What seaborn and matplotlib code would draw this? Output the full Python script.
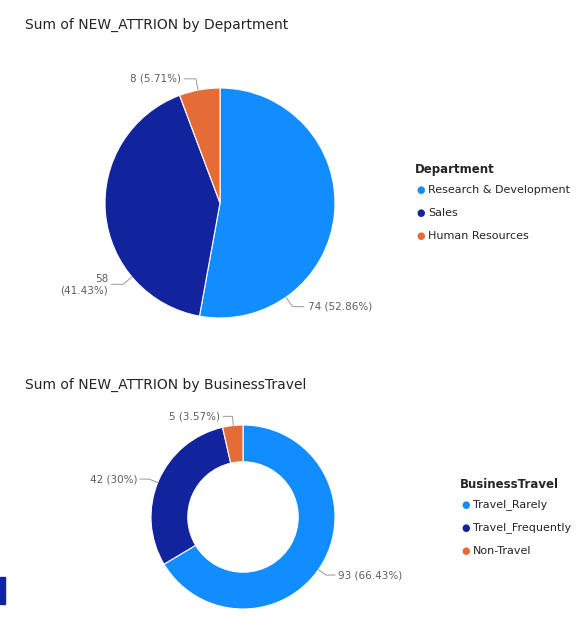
import numpy as np
import matplotlib
matplotlib.use("Agg")
import matplotlib.pyplot as plt
import seaborn as sns

dept_labels = ["Research & Development", "Sales", "Human Resources"]
dept_values = [74, 58, 8]
dept_pct = ["52.86%", "41.43%", "5.71%"]

travel_labels = ["Travel_Rarely", "Travel_Frequently", "Non-Travel"]
travel_values = [93, 42, 5]
travel_pct = ["66.43%", "30%", "3.57%"]

colors = ["#118DFF", "#12239E", "#E66C37"]

sns.set_theme(style="white")
plt.rcParams['font.family'] = ['DejaVu Sans']

W, H = 580, 630
fig = plt.figure(figsize=(W / 100, H / 100), dpi=100)
fig.patch.set_facecolor("white")


def px_axes(cx, cy, r):
    return fig.add_axes([(cx - r) / W, 1 - (cy + r) / H, 2 * r / W, 2 * r / H])


def draw_pie(ax, values, pct, width, label_lines, label_angles):
    ax.pie(values, colors=colors, startangle=90, counterclock=False,
           radius=1, wedgeprops=dict(width=width, edgecolor="white", linewidth=0.8))
    ax.set_xlim(-1, 1)
    ax.set_ylim(-1, 1)
    ax.set_aspect("auto")
    ax.axis("off")
    for v, p, two, a in zip(values, pct, label_lines, label_angles):
        ang = np.deg2rad(a)
        x0, y0 = np.cos(ang), np.sin(ang)
        x1, y1 = 1.1 * x0, 1.1 * y0
        side = 1 if x0 >= 0 else -1
        x2 = x1 + side * 0.1
        ax.plot([x0, x1, x2], [y0, y1, y1], color="#999999", lw=0.7, clip_on=False)
        txt = f"{v}\n({p})" if two else f"{v} ({p})"
        ax.text(x2 + side * 0.03, y1, txt, ha="left" if side > 0 else "right", va="center",
                fontsize=7.5, color="#605E5C", clip_on=False, linespacing=1.2)


def legend(title, labels, x, y):
    fig.text(x / W, 1 - y / H, title, fontsize=8.5, fontweight="bold", color="#252423", va="center")
    for i, lab in enumerate(labels):
        yy = y + 20 + i * 23
        fig.text((x + 1) / W, 1 - yy / H, "\u25CF", color=colors[i], fontsize=7, va="center")
        fig.text((x + 13) / W, 1 - yy / H, lab, fontsize=8, color="#252423", va="center")


fig.text(25 / W, 1 - 25 / H, "Sum of NEW_ATTRION by Department", fontsize=10, color="#252423", va="center")
ax1 = px_axes(220, 203, 115)
draw_pie(ax1, dept_values, dept_pct, 1, [False, True, False], [-55, -140, 101])
legend("Department", dept_labels, 415, 170)

fig.text(25 / W, 1 - 385 / H, "Sum of NEW_ATTRION by BusinessTravel", fontsize=10, color="#252423", va="center")
ax2 = px_axes(243, 517, 92)
draw_pie(ax2, travel_values, travel_pct, 0.4, [False, False, False], [-35, 158, 96])
legend("BusinessTravel", travel_labels, 460, 485)

fig.add_artist(plt.Rectangle((0, 1 - 604 / H), 5 / W, 27 / H, color="#12239E", transform=fig.transFigure))

fig.savefig("out.png", dpi=100, facecolor="white")
